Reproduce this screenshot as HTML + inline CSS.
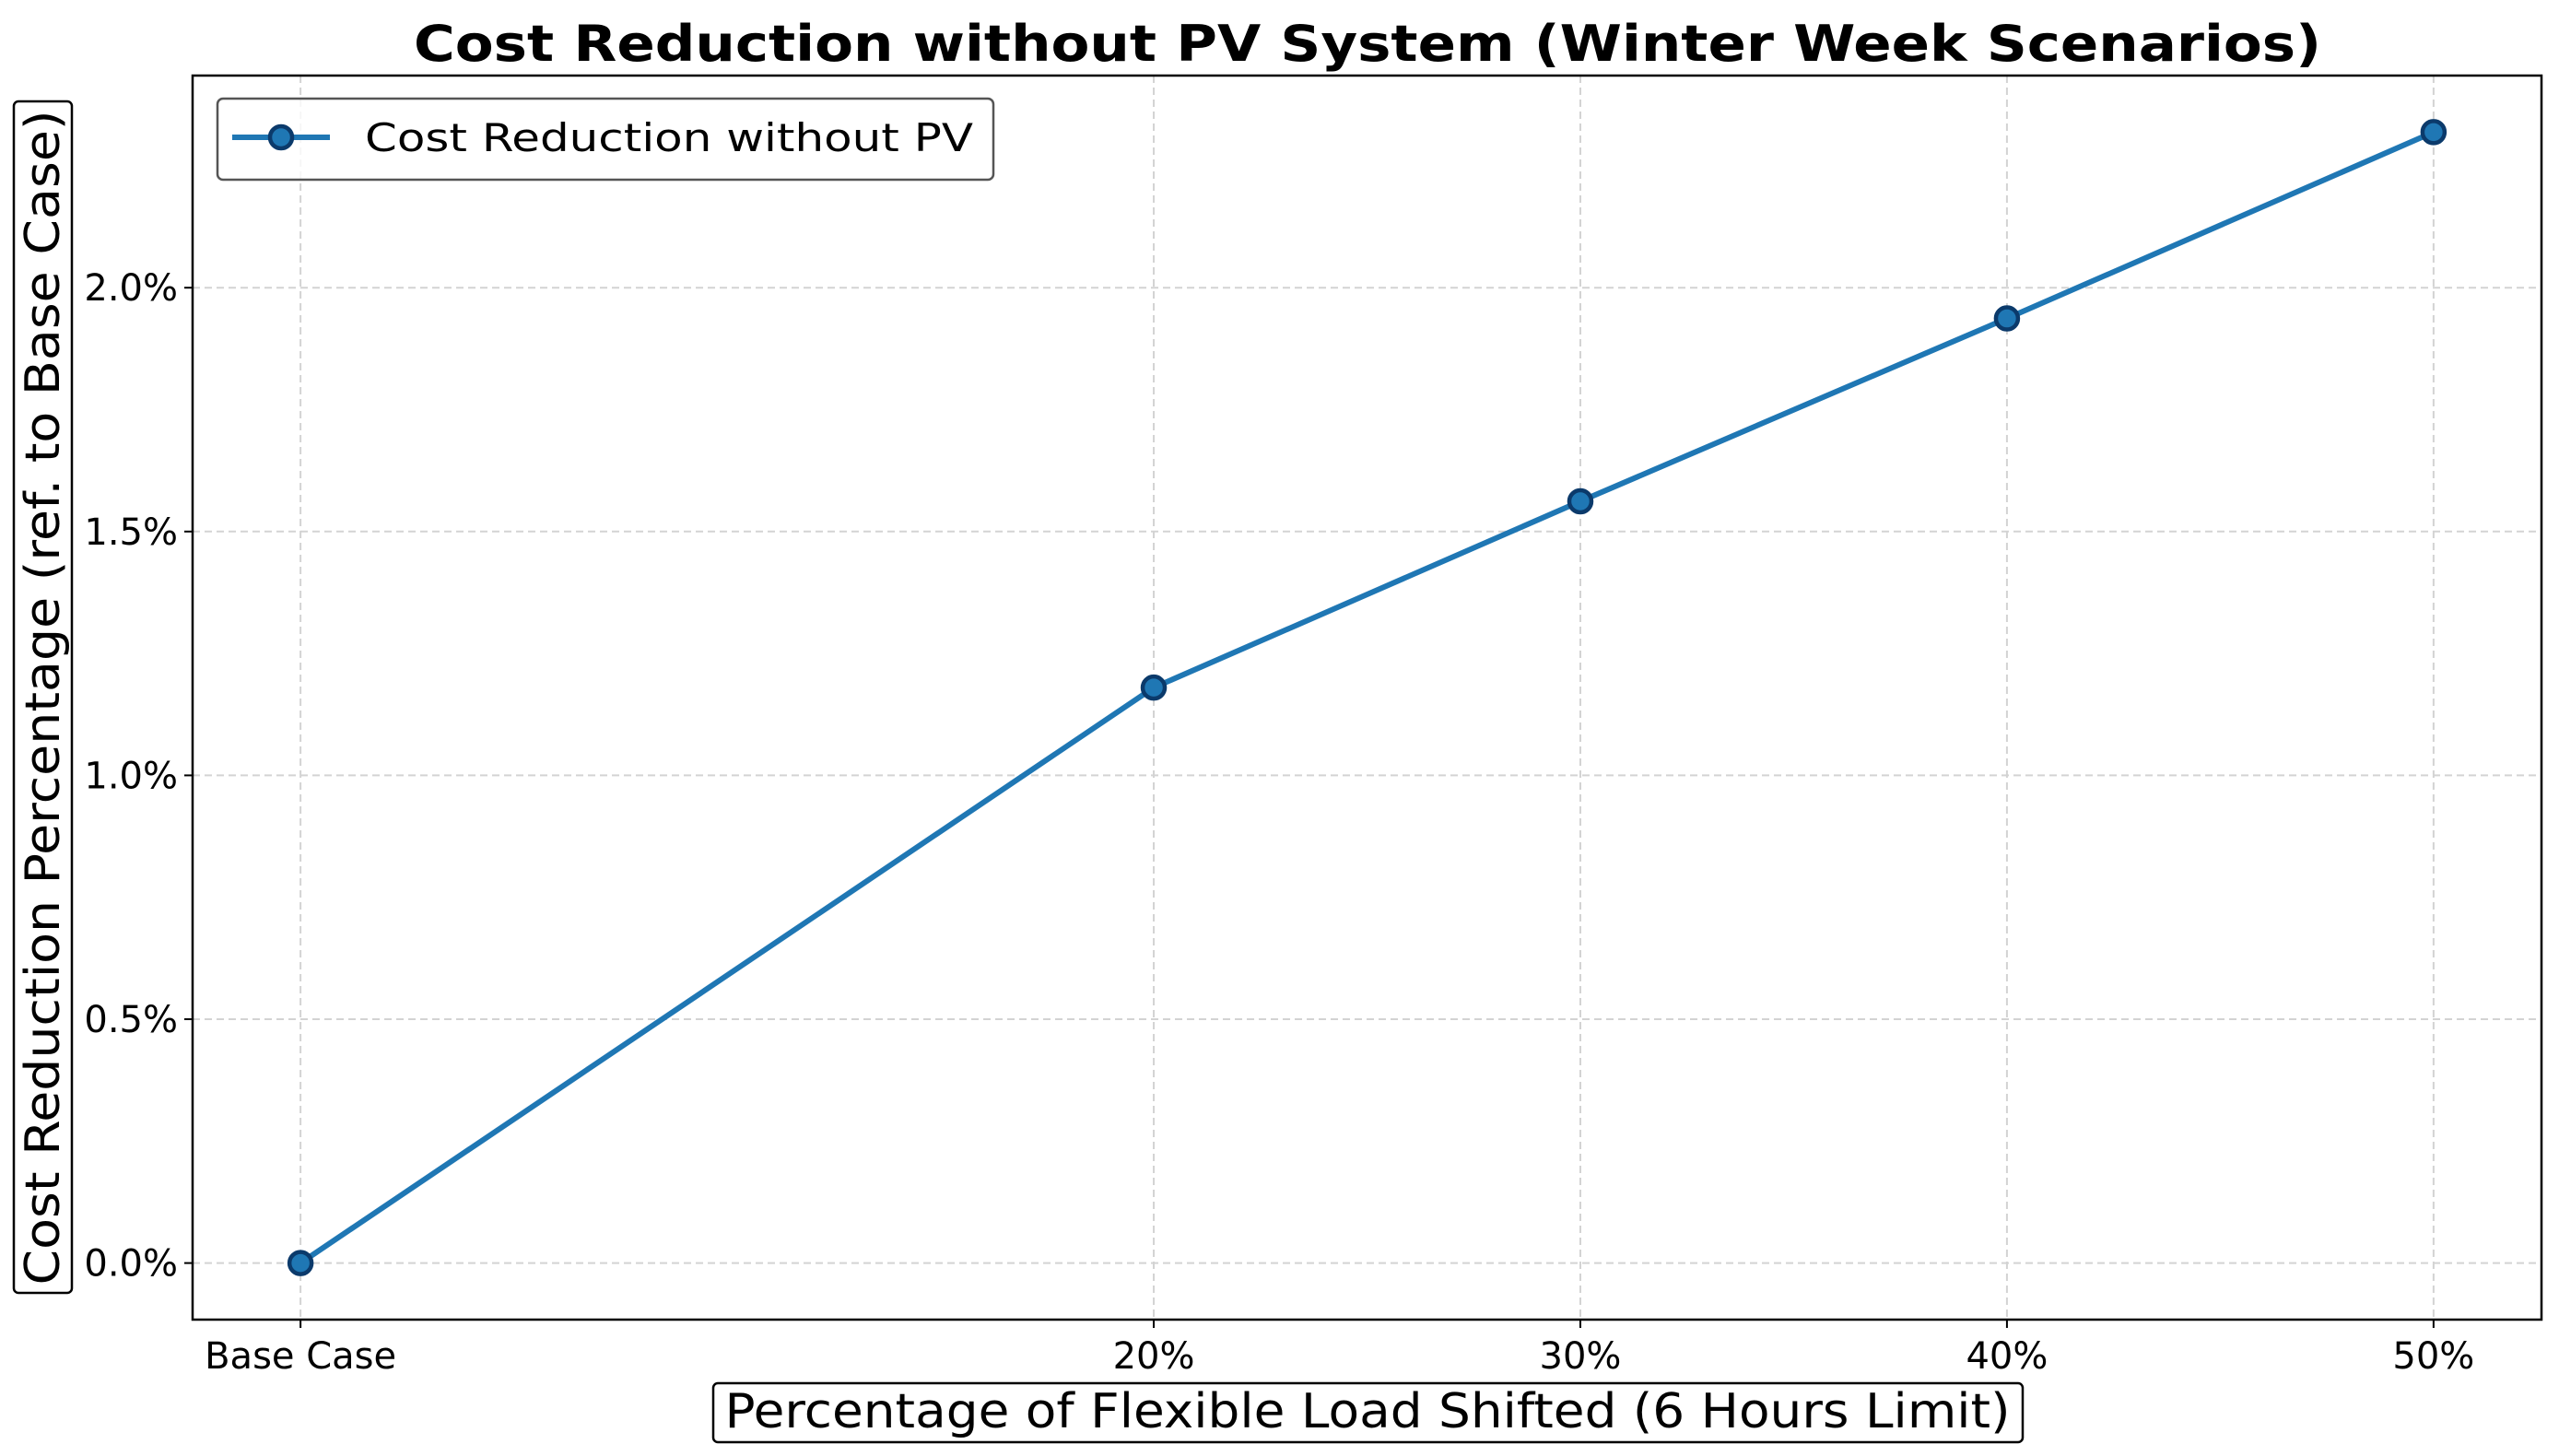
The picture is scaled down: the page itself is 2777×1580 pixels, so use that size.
<!DOCTYPE html>
<html><head><meta charset="utf-8"><style>
html,body{margin:0;padding:0;background:#fff;}
svg{display:block;font-family:"DejaVu Sans","Liberation Sans",sans-serif;}
</style></head><body>
<svg id="chart" width="2777" height="1580" viewBox="0 0 2777 1580" xmlns="http://www.w3.org/2000/svg">
<rect width="2777" height="1580" fill="#fff"/>
<text x="1484" y="66" text-anchor="middle" font-weight="bold" font-size="54" textLength="2070" lengthAdjust="spacingAndGlyphs">Cost Reduction without PV System (Winter Week Scenarios)</text>
<g id="grid"></g>
<g id="axes"></g>
<g id="series"></g>
<rect x="209" y="82" width="2549" height="1350" fill="none" stroke="#000" stroke-width="2.5"/>
<g>
<rect x="236" y="107" width="842" height="88" rx="6" fill="#fff" fill-opacity="0.8" stroke="#555" stroke-width="2.5"/>
<line x1="252" y1="149" x2="358" y2="149" stroke="#1f77b4" stroke-width="6"/>
<circle cx="305" cy="149" r="12" fill="#1f77b4" stroke="#0b3a6b" stroke-width="4.5"/>
<text x="396" y="164" font-size="42" textLength="660" lengthAdjust="spacingAndGlyphs">Cost Reduction without PV</text>
</g>
<g>
<rect x="15" y="110" width="63" height="1293" rx="5" fill="#fff" stroke="#000" stroke-width="2.5"/>
<text x="0" y="0" transform="translate(64,757) rotate(-90)" text-anchor="middle" font-size="52" textLength="1275" lengthAdjust="spacingAndGlyphs">Cost Reduction Percentage (ref. to Base Case)</text>
</g>
<g>
<rect x="774" y="1501" width="1421" height="64" rx="5" fill="#fff" stroke="#000" stroke-width="2.5"/>
<text x="1484" y="1549" text-anchor="middle" font-size="52" textLength="1395" lengthAdjust="spacingAndGlyphs">Percentage of Flexible Load Shifted (6 Hours Limit)</text>
</g>
</svg>
<script>
const categories = [0, 20, 30, 40, 50];
const categoryLabels = ["Base Case", "20%", "30%", "40%", "50%"];
const values = [0.0, 1.18, 1.562, 1.937, 2.319];
const yTicks = [0.0, 0.5, 1.0, 1.5, 2.0];
const yTickLabels = ["0.0%", "0.5%", "1.0%", "1.5%", "2.0%"];

const X0 = 209, X1 = 2758, Y0 = 82, Y1 = 1432;
const xMin = -2.53, xMax = 52.53, yMin = -0.116, yMax = 2.435;
function xs(v){ return X0 + (v - xMin) / (xMax - xMin) * (X1 - X0); }
function ys(v){ return Y1 - (v - yMin) / (yMax - yMin) * (Y1 - Y0); }
const NS = "http://www.w3.org/2000/svg";
function mk(tag, attrs, parent){ const e = document.createElementNS(NS, tag); for (const k in attrs) e.setAttribute(k, attrs[k]); parent.appendChild(e); return e; }
const grid = document.getElementById('grid'), axes = document.getElementById('axes'), series = document.getElementById('series');

categories.forEach((c, i) => {
  const x = xs(c);
  const g = mk('line', {x1:x, y1:Y0, x2:x, y2:Y1, stroke:'#d3d3d3', 'stroke-width':2, 'stroke-dasharray':'8 5'}, grid);
  
  
  const t = mk('line', {x1:x, y1:Y1, x2:x, y2:Y1+9, stroke:'#000', 'stroke-width':2}, axes);
  
  
  const l = mk('text', {x:x, y:1485, 'text-anchor':'middle', 'font-size':40}, axes);
  l.textContent = categoryLabels[i];
  
  
});
yTicks.forEach((v, i) => {
  const y = ys(v);
  const g = mk('line', {x1:X0, y1:y, x2:X1, y2:y, stroke:'#d3d3d3', 'stroke-width':2, 'stroke-dasharray':'8 5'}, grid);
  
  
  const t = mk('line', {x1:X0-9, y1:y, x2:X0, y2:y, stroke:'#000', 'stroke-width':2}, axes);
  
  
  const l = mk('text', {x:193, y:y+14, 'text-anchor':'end', 'font-size':40}, axes);
  l.textContent = yTickLabels[i];
  
  
});
const pts = categories.map((c, i) => xs(c) + ',' + ys(values[i])).join(' ');
const line = mk('polyline', {points:pts, fill:'none', stroke:'#1f77b4', 'stroke-width':6, 'stroke-linejoin':'round'}, series);


categories.forEach((c, i) => {
  const p = mk('circle', {cx:xs(c), cy:ys(values[i]), r:12, fill:'#1f77b4', stroke:'#0b3a6b', 'stroke-width':4.5}, series);
  
  
});
</script>
</body></html>
